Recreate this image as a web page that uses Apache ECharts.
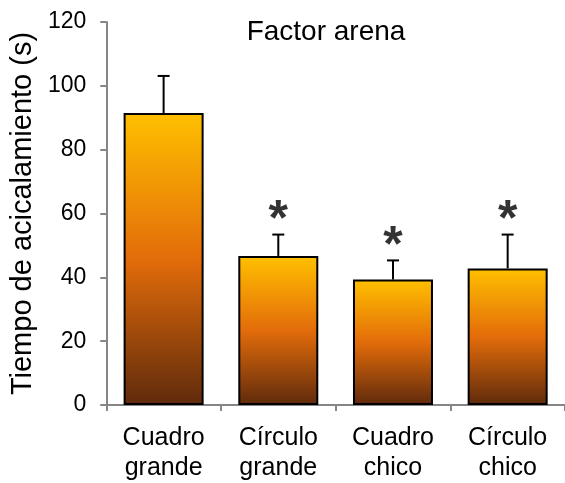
<!DOCTYPE html>
<html>
<head>
<meta charset="utf-8">
<script src="https://cdn.jsdelivr.net/npm/echarts@6/dist/echarts.min.js"></script>
<style>html,body{margin:0;padding:0;background:#fff}#c{width:565px;height:483px}</style>
</head>
<body>
<div id="c"></div>
<script>
const categories = ['Cuadro\ngrande', 'Círculo\ngrande', 'Cuadro\nchico', 'Círculo\nchico'];
const means = [91.5, 46.7, 39.3, 42.8];
const errors = [11.6, 6.7, 6.0, 10.6];
const significant = [false, true, true, true];
const yTicks = [0, 20, 40, 60, 80, 100, 120];

const FONT = "'Liberation Sans', Arial, sans-serif";
const chart = echarts.init(document.getElementById('c'));

const barGradient = new echarts.graphic.LinearGradient(0, 0, 0, 1, [
  { offset: 0, color: '#FFC000' },
  { offset: 0.5, color: '#E36C0A' },
  { offset: 1, color: '#5F2A0C' }
]);

const errData = means.map((m, i) => [i, m, errors[i]]);
const starData = means.map((m, i) => significant[i] ? [i, m + errors[i]] : [i, '-']);

chart.setOption({
  animation: false,
  title: {
    text: 'Factor arena',
    left: 321, top: 13, textAlign: 'center',
    textStyle: { fontFamily: FONT, fontSize: 28, fontWeight: 'normal', color: '#000' }
  },
  grid: { left: 102, right: -2, top: 22, bottom: 76, containLabel: false },
  xAxis: {
    type: 'category',
    data: categories,
    axisLine: { lineStyle: { color: '#868686', width: 2 } },
    axisTick: { show: true, length: 6, lineStyle: { color: '#868686', width: 2 } },
    axisLabel: { fontFamily: FONT, fontSize: 25, color: '#000', lineHeight: 30, margin: 18 }
  },
  yAxis: {
    type: 'value',
    min: yTicks[0], max: yTicks[yTicks.length - 1], interval: 20,
    name: 'Tiempo de acicalamiento (s)',
    nameLocation: 'middle', nameGap: 64,
    nameTextStyle: { fontFamily: FONT, fontSize: 29, color: '#000' },
    axisLine: { show: true, lineStyle: { color: '#868686', width: 2 } },
    axisTick: { show: true, length: 6, lineStyle: { color: '#868686', width: 2 } },
    axisLabel: { fontFamily: FONT, fontSize: 23, color: '#000', margin: 20 },
    splitLine: { show: false }
  },
  series: [
    {
      type: 'bar',
      data: means,
      barWidth: 80,
      itemStyle: { color: barGradient, borderColor: '#000', borderWidth: 2 }
    },
    {
      type: 'custom',
      data: errData,
      z: 3,
      renderItem: function (params, api) {
        const i = api.value(0), m = api.value(1), e = api.value(2);
        const p0 = api.coord([i, m]);
        const p1 = api.coord([i, m + e]);
        const cap = 6;
        const style = { stroke: '#000', lineWidth: 2 };
        return {
          type: 'group',
          children: [
            { type: 'line', shape: { x1: p0[0], y1: p0[1], x2: p1[0], y2: p1[1] }, style: style },
            { type: 'line', shape: { x1: p1[0] - cap, y1: p1[1], x2: p1[0] + cap, y2: p1[1] }, style: style }
          ]
        };
      }
    },
    {
      type: 'scatter',
      data: starData,
      symbolSize: 0,
      z: 4,
      label: {
        show: true, position: 'top', distance: -12, formatter: '*',
        fontFamily: FONT, fontSize: 50, fontWeight: 'bold', color: '#000'
      }
    }
  ]
});
</script>
</body>
</html>
